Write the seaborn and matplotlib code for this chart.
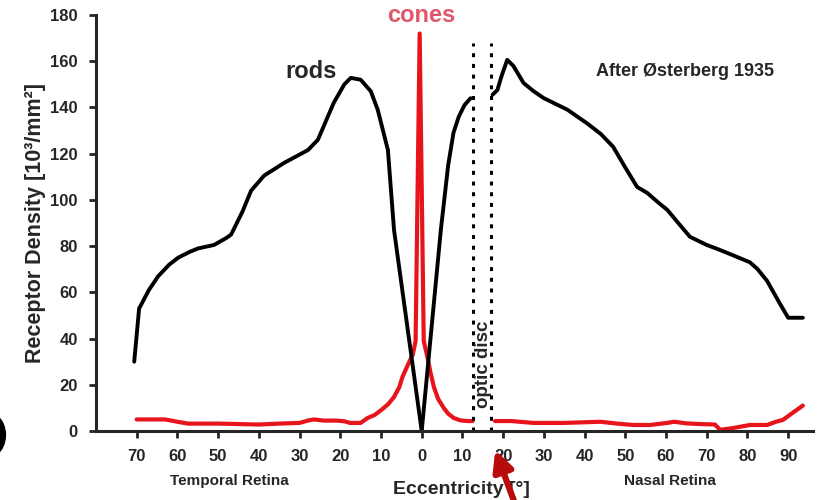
import numpy as np
import pandas as pd
import matplotlib
matplotlib.use("Agg")
import matplotlib.pyplot as plt
from matplotlib.patches import Arc, FancyArrowPatch
import seaborn as sns

# eccentricity in degrees: temporal retina negative, nasal retina positive
rods_temporal_x = [-70.6, -69.4, -67, -64.7, -62, -59.8, -57, -54.9, -51, -48, -46.8, -44,
                   -41.9, -38.7, -33.8, -27.9, -25.5, -21.6, -19, -17.4, -15, -12.5, -10.8,
                   -8.3, -6.8, 0]
rods_temporal_y = [30, 53, 61, 67, 72, 75, 77.5, 79, 80.5, 83.5, 85, 95,
                   104, 110.5, 116, 121.6, 126, 142, 150, 152.8, 152, 147, 139,
                   121.6, 87, 0]
rods_center_x = [0, 4.7, 6.5, 7.8, 9.1, 10.5, 12]
rods_center_y = [0, 87, 115, 129, 136, 141, 144]
rods_nasal_x = [17.4, 18.6, 19.5, 21, 22.5, 25, 27.5, 30, 35.8, 40.7, 44, 47, 50, 52.9,
                55.4, 58, 60.3, 63, 65.9, 70, 73, 76.5, 80.6, 82.5, 84.8, 88, 90, 93.6]
rods_nasal_y = [145.5, 147.6, 153, 160.6, 158, 150.6, 147, 144, 139, 133, 128.5, 123, 114, 105.6,
                103, 99, 95.7, 90, 84, 80.5, 78.5, 76, 73, 70, 65, 55, 49, 49]

cones_x = [-70, -66, -63, -60, -57.4, -50, -45, -40, -35, -30, -28, -26.5, -24, -21, -19,
           -17.6, -15, -13.3, -11.5, -10, -8.3, -6.8, -5.5, -4.7, -3.2, -2.2, -1.5, -0.5,
           0.5, 1.4, 2.2, 3, 4, 5.4, 6.5, 7.9, 9.5, 11.2, 12.5]
cones_y = [5, 5, 5, 4, 3.2, 3.2, 3, 2.8, 3.2, 3.5, 4.5, 5, 4.5, 4.5, 4.2,
           3.5, 3.5, 5.6, 7, 9, 11.5, 14.7, 19, 23.5, 29.4, 33, 39, 172,
           39, 32, 25, 19, 14, 10, 7.5, 5.6, 4.6, 4.3, 4.3]
cones_nasal_x = [18, 22, 27.4, 35, 43.9, 48, 52, 56, 60.3, 62, 65, 68.4, 72, 73.3,
                 76.5, 80.6, 84.8, 87, 88.7, 91.2, 93.6]
cones_nasal_y = [4.3, 4.3, 3.5, 3.5, 4, 3.2, 2.6, 2.6, 3.5, 4, 3.3, 3, 2.8, 0.5,
                 1.3, 2.6, 2.6, 4, 4.8, 8, 11]

optic_disc = [12.5, 17]
xticks = [-70, -60, -50, -40, -30, -20, -10, 0, 10, 20, 30, 40, 50, 60, 70, 80, 90]
yticks = [0, 20, 40, 60, 80, 100, 120, 140, 160, 180]

sns.set_style("ticks")
plt.rcParams['font.family'] = ['Liberation Sans', 'DejaVu Sans']
plt.rcParams['font.weight'] = 'bold'

fig = plt.figure(figsize=(8.2, 5), dpi=100)
ax = fig.add_axes([0.117, 0.138, 0.874, 0.832])

red = '#e8141c'
for xs, ys in [(cones_x, cones_y), (cones_nasal_x, cones_nasal_y)]:
    sns.lineplot(x=xs, y=ys, ax=ax, color=red, lw=3, sort=False)
for xs, ys in [(rods_temporal_x, rods_temporal_y), (rods_center_x, rods_center_y),
               (rods_nasal_x, rods_nasal_y)]:
    sns.lineplot(x=xs, y=ys, ax=ax, color='black', lw=2.8, sort=False)

ax.vlines(optic_disc, 0, 168, colors='black', lw=2.2, linestyles=(0, (1.3, 2.2)))
ax.text(15.2, 29, 'optic disc', rotation=90, ha='center', va='center',
        fontsize=13.5, fontweight='bold')

ax.set_xlim(-80, 96)
ax.set_ylim(0, 180)
ax.set_xticks(xticks)
ax.set_xticklabels([str(abs(t)) for t in xticks])
ax.set_yticks(yticks)
ax.tick_params(direction='out', length=5, width=2, labelsize=12, pad=8)
for lab in ax.get_xticklabels() + ax.get_yticklabels():
    lab.set_fontweight('bold')
sns.despine(ax=ax)
for s in ['left', 'bottom']:
    ax.spines[s].set_linewidth(2.2)

ax.set_ylabel('Receptor Density [10³/mm²]', fontsize=15.5, fontweight='bold')
ax.set_xlabel('Eccentricity [°]', fontsize=14, fontweight='bold')
ax.yaxis.set_label_coords(-0.07, 0.5)
ax.xaxis.set_label_coords(0.51, -0.12)

ax.text(-27.2, 155.4, 'rods', fontsize=17, fontweight='bold', ha='center', va='center')
ax.text(-0.2, 179.6, 'cones', fontsize=17, fontweight='bold', ha='center', va='center',
        color='#e0566a')
ax.text(64.7, 155.4, 'After Østerberg 1935', fontsize=13, fontweight='bold',
        ha='center', va='center')
ax.text(-47.3, -21.6, 'Temporal Retina', fontsize=11, fontweight='bold',
        ha='center', va='center')
ax.text(61, -21.6, 'Nasal Retina', fontsize=11, fontweight='bold',
        ha='center', va='center')

# leftovers from the cropped slide: red pointer arrow and a bracket edge
fig.add_artist(FancyArrowPatch(
    (0.633, -0.03), (0.604, 0.1), transform=fig.transFigure,
    arrowstyle='-|>', mutation_scale=30, lw=4.5, color='#b80c0c',
    shrinkA=0, shrinkB=0))
fig.add_artist(Arc((-16 / 820, 65 / 500), 38 / 820, 44 / 500, theta1=-70, theta2=70,
                   transform=fig.transFigure, lw=4.5, color='black'))

fig.savefig('out.png', dpi=100)
